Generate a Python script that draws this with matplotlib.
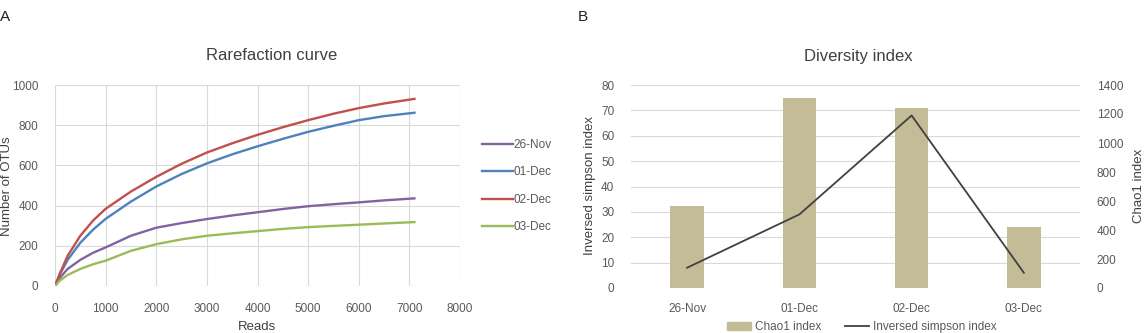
import matplotlib
matplotlib.use("Agg")
import matplotlib.pyplot as plt
from matplotlib.lines import Line2D
from matplotlib.patches import Patch

plt.rcParams['font.family'] = ['Liberation Sans', 'DejaVu Sans']

# ---- Panel A data: rarefaction curves ----
reads = [0, 100, 250, 500, 750, 1000, 1500, 2000, 2500, 3000, 3500, 4000,
         4500, 5000, 5500, 6000, 6500, 7100]
otus_26nov = [0, 42, 85, 130, 165, 192, 250, 290, 313, 333, 351, 367,
              383, 397, 407, 416, 426, 436]
otus_01dec = [0, 60, 130, 215, 280, 334, 420, 495, 557, 610, 655, 695,
              732, 767, 797, 825, 845, 862]
otus_02dec = [0, 65, 150, 250, 325, 384, 470, 543, 608, 664, 710, 752,
              790, 825, 857, 885, 908, 931]
otus_03dec = [0, 28, 55, 85, 108, 126, 175, 208, 232, 250, 262, 273,
              284, 293, 299, 305, 311, 318]
series_names = ['26-Nov', '01-Dec', '02-Dec', '03-Dec']
series_colors = ['#8064A2', '#4F81BD', '#C0504D', '#9BBB59']

# ---- Panel B data: diversity index ----
dates = ['26-Nov', '01-Dec', '02-Dec', '03-Dec']
chao1 = [565, 1310, 1240, 420]
inv_simpson = [8, 29, 68, 6]

W, H = 1146, 333
fig = plt.figure(figsize=(W / 100, H / 100), dpi=100)

def ax_rect(x0, y0, x1, y1):
    return [x0 / W, 1 - y1 / H, (x1 - x0) / W, (y1 - y0) / H]

def fx(px):
    return px / W

def fy(py):
    return 1 - py / H

grid_c = '#d9d9d9'
txt_c = '#595959'
lab_c = '#404040'
fs_tick = 8.5
fs_lab = 9.5
fs_title = 12

# ---- Panel A ----
axA = fig.add_axes(ax_rect(55, 85, 460, 286))
for vals, name, col in zip([otus_26nov, otus_01dec, otus_02dec, otus_03dec],
                           series_names, series_colors):
    axA.plot(reads, vals, color=col, lw=1.7, label=name, solid_joinstyle='round')
axA.set_xlim(0, 8000)
axA.set_ylim(0, 1000)
axA.set_xticks(range(0, 8001, 1000))
axA.set_yticks(range(0, 1001, 200))
axA.grid(True, color=grid_c, lw=0.8)
axA.set_axisbelow(True)
for s in axA.spines.values():
    s.set_visible(False)
axA.tick_params(axis='y', length=0, labelsize=fs_tick, colors=txt_c, pad=12)
axA.tick_params(axis='x', length=0, labelsize=fs_tick, colors=txt_c, pad=12)
fig.text(fx(272), fy(56), 'Rarefaction curve', fontsize=fs_title, color=lab_c,
         ha='center', va='center')
fig.text(fx(257), fy(327), 'Reads', fontsize=fs_lab, color=lab_c,
         ha='center', va='center')
fig.text(fx(7), fy(186), 'Number of OTUs', fontsize=fs_lab, color=lab_c,
         ha='center', va='center', rotation=90)
axA.legend(loc='upper left', bbox_to_anchor=(fx(482), fy(139)),
           bbox_transform=fig.transFigure,
           frameon=False, fontsize=fs_tick, labelcolor=txt_c, handlelength=2.6,
           handletextpad=0.1, labelspacing=1.3, borderaxespad=0, borderpad=0)
fig.text(fx(0), fy(17), 'A', fontsize=11, color='#222222', va='center', ha='left')

# ---- Panel B ----
axB = fig.add_axes(ax_rect(631, 85, 1080, 288))
axB2 = axB.twinx()
x = list(range(len(dates)))
axB2.bar(x, chao1, width=0.3, color='#C4BC96', zorder=2)
axB.plot(x, inv_simpson, color='#404040', lw=1.3, zorder=3)
axB.set_zorder(axB2.get_zorder() + 1)
axB.patch.set_visible(False)
axB.set_xlim(-0.5, 3.5)
axB.set_ylim(0, 80)
axB2.set_ylim(0, 1400)
axB.set_yticks(range(0, 81, 10))
axB2.set_yticks(range(0, 1401, 200))
axB.set_xticks(x)
axB.set_xticklabels(dates)
axB2.grid(False)
for yv in range(0, 81, 10):
    axB2.axhline(yv / 80 * 1400, color=grid_c, lw=0.8, zorder=0)
for a in (axB, axB2):
    for s in a.spines.values():
        s.set_visible(False)
    a.tick_params(axis='y', length=0, labelsize=fs_tick, colors=txt_c, pad=12)
    a.tick_params(axis='x', length=0, labelsize=fs_tick, colors=txt_c, pad=11)
fig.text(fx(858), fy(56), 'Diversity index', fontsize=fs_title, color=lab_c,
         ha='center', va='center')
fig.text(fx(590), fy(186), 'Inversed simpson index', fontsize=fs_lab, color=lab_c,
         ha='center', va='center', rotation=90)
fig.text(fx(1139), fy(186), 'Chao1 index', fontsize=fs_lab, color=lab_c,
         ha='center', va='center', rotation=90)
handles = [Patch(color='#C4BC96'), Line2D([], [], color='#404040', lw=1.3)]
axB.legend(handles, ['Chao1 index', 'Inversed simpson index'],
           loc='lower center', bbox_to_anchor=(fx(862), fy(333)),
           bbox_transform=fig.transFigure, ncol=2, frameon=False,
           fontsize=fs_tick, labelcolor=txt_c, handlelength=2.0, handleheight=0.6,
           columnspacing=2.0, handletextpad=0.4, borderpad=0, borderaxespad=0)
fig.text(fx(578), fy(17), 'B', fontsize=11, color='#222222', va='center', ha='left')

fig.savefig('out.png', dpi=100)
